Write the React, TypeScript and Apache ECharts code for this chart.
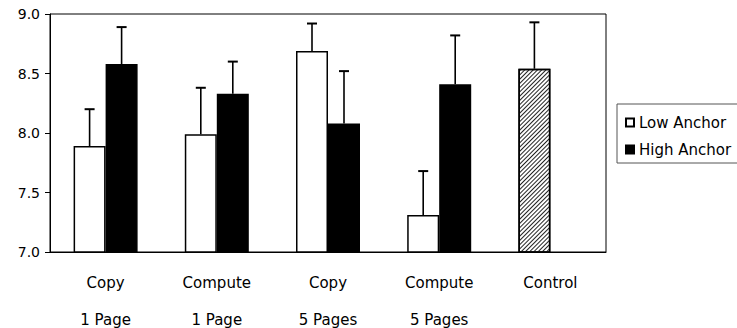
import React, { useEffect, useRef } from 'react';
import * as echarts from 'echarts';

const categoryLine1 = ['Copy', 'Compute', 'Copy', 'Compute', 'Control'];
const categoryLine2 = ['1 Page', '1 Page', '5 Pages', '5 Pages', ''];
const lowAnchor: (number | null)[] = [7.89, 7.99, 8.69, 7.31, 8.54];
const lowAnchorErrTop: (number | null)[] = [8.2, 8.38, 8.92, 7.68, 8.93];
const highAnchor: (number | null)[] = [8.58, 8.33, 8.08, 8.41, null];
const highAnchorErrTop: (number | null)[] = [8.89, 8.6, 8.52, 8.82, null];
const controlIndex = 4;
const yMin = 7;
const yMax = 9;
const yStep = 0.5;

const FONT = 'DejaVu Sans';
const BAR_W = 32;

export default function App() {
  const ref = useRef<HTMLDivElement>(null);
  useEffect(() => {
    if (!ref.current) return;
    const chart = echarts.init(ref.current, null, { renderer: 'svg' });
    const categories = categoryLine1.map((a, i) => (categoryLine2[i] ? a + '\n' + categoryLine2[i] : a));

    const lowData = lowAnchor.map((v, i) =>
      i === controlIndex
        ? {
            value: v,
            itemStyle: {
              color: '#ffffff',
              borderColor: '#000',
              borderWidth: 1.5,
              decal: {
                symbol: 'rect',
                symbolSize: 1,
                dashArrayX: [1, 0],
                dashArrayY: [1, 2],
                rotation: -Math.PI / 4,
                color: '#222',
              },
            },
          }
        : v
    );
    const highData = highAnchor.map((v) => (v == null ? '-' : v));

    const errData: number[][] = [];
    lowAnchor.forEach((v, i) => {
      if (v != null && lowAnchorErrTop[i] != null) errData.push([i, v, lowAnchorErrTop[i] as number, -1]);
    });
    highAnchor.forEach((v, i) => {
      if (v != null && highAnchorErrTop[i] != null) errData.push([i, v, highAnchorErrTop[i] as number, 1]);
    });

    chart.setOption({
      animation: false,
      grid: {
        left: 50,
        right: 131,
        top: 14,
        bottom: 76,
        containLabel: false,
        outerBoundsMode: 'none',
        show: true,
        borderColor: '#000',
        borderWidth: 1,
        backgroundColor: 'transparent',
      },
      legend: {
        data: ['Low Anchor', 'High Anchor'],
        orient: 'vertical',
        left: 617,
        top: 104,
        padding: [10, 40, 5, 8],
        itemWidth: 8,
        itemHeight: 8,
        itemGap: 10,
        icon: 'rect',
        borderColor: '#555',
        borderWidth: 1,
        borderRadius: 0,
        textStyle: { fontFamily: FONT, fontSize: 15, color: '#000', lineHeight: 17 },
      },
      xAxis: {
        type: 'category',
        data: categories,
        axisLine: { show: true, lineStyle: { color: '#000', width: 1 } },
        axisTick: { show: false },
        axisLabel: {
          interval: 0,
          fontFamily: FONT,
          fontSize: 15,
          color: '#000',
          lineHeight: 37,
          margin: 12,
        },
        splitLine: { show: false },
      },
      yAxis: {
        type: 'value',
        min: yMin,
        max: yMax,
        interval: yStep,
        axisLine: { show: true, lineStyle: { color: '#000', width: 1 } },
        axisTick: { show: true, length: 5, lineStyle: { color: '#000' } },
        axisLabel: {
          fontFamily: FONT,
          fontSize: 14,
          color: '#000',
          margin: 10,
          formatter: (v: number) => v.toFixed(1),
        },
        splitLine: { show: false },
      },
      series: [
        {
          name: 'Low Anchor',
          type: 'bar',
          data: lowData,
          barWidth: BAR_W,
          barGap: '0%',
          itemStyle: { color: '#ffffff', borderColor: '#000', borderWidth: 1.5 },
        },
        {
          name: 'High Anchor',
          type: 'bar',
          data: highData,
          barWidth: BAR_W,
          barGap: '0%',
          itemStyle: { color: '#000', borderColor: '#000', borderWidth: 1.5 },
        },
        {
          name: 'errors',
          type: 'custom',
          z: 5,
          data: errData,
          encode: { x: 0, y: [1, 2] },
          renderItem: (params: any, api: any) => {
            const cat = api.value(0);
            const v = api.value(1);
            const e = api.value(2);
            const side = api.value(3);
            const p0 = api.coord([cat, v]);
            const p1 = api.coord([cat, e]);
            const x = p0[0] + (side * BAR_W) / 2;
            return {
              type: 'group',
              children: [
                {
                  type: 'line',
                  shape: { x1: x, y1: p0[1], x2: x, y2: p1[1] },
                  style: { stroke: '#000', lineWidth: 1.6 },
                },
                {
                  type: 'line',
                  shape: { x1: x - 5, y1: p1[1], x2: x + 5, y2: p1[1] },
                  style: { stroke: '#000', lineWidth: 2 },
                },
              ],
            };
          },
        },
      ],
    });
    return () => chart.dispose();
  }, []);
  return (
    <div
      ref={ref}
      style={{ position: 'fixed', left: 0, top: 0, width: 737, height: 328, background: '#fff' }}
    />
  );
}
